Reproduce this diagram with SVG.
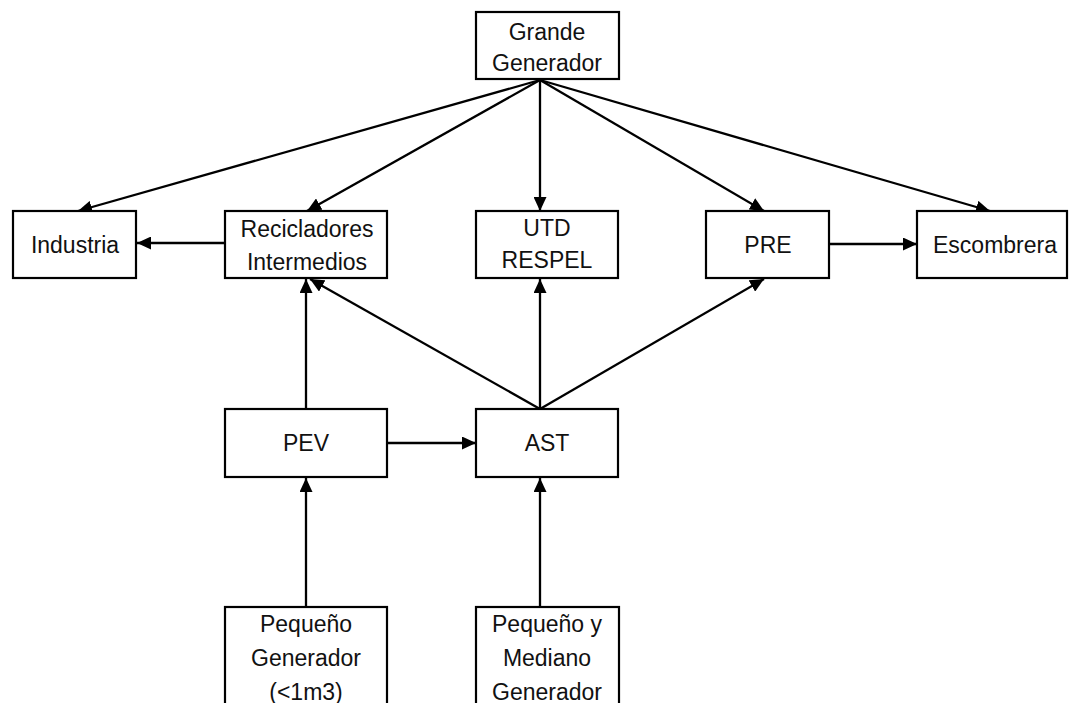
<svg xmlns="http://www.w3.org/2000/svg" width="1069" height="703" viewBox="0 0 1069 703">
  <style>
    .box { fill: #ffffff; stroke: #000000; stroke-width: 2.2; }
    .lbl { font-family: "Liberation Sans", Arial, sans-serif; font-size: 23px; fill: #111111; text-anchor: middle; }
    .edge { stroke: #000000; stroke-width: 2.3; fill: none; marker-end: url(#arrow); }
  </style>
  <defs>
    <marker id="arrow" markerUnits="userSpaceOnUse" markerWidth="15" markerHeight="13" refX="14" refY="6.5" orient="auto">
      <path d="M0,0 L14,6.5 L0,13 z" fill="#000000"/>
    </marker>
  </defs>
  <rect width="1069" height="703" fill="#ffffff"/>

  <!-- flows between nodes -->
  <g id="connectors">
    <line class="edge" x1="540" y1="80" x2="78" y2="211"/>
    <line class="edge" x1="540" y1="80" x2="307" y2="211"/>
    <line class="edge" x1="540" y1="80" x2="540" y2="211"/>
    <line class="edge" x1="540" y1="80" x2="764" y2="211"/>
    <line class="edge" x1="540" y1="80" x2="990" y2="211"/>
    <line class="edge" x1="225" y1="243" x2="137" y2="243"/>
    <line class="edge" x1="829" y1="244" x2="917" y2="244"/>
    <line class="edge" x1="306" y1="409" x2="306" y2="279"/>
    <line class="edge" x1="540" y1="409" x2="310" y2="279"/>
    <line class="edge" x1="540" y1="409" x2="540" y2="279"/>
    <line class="edge" x1="540" y1="409" x2="764" y2="279"/>
    <line class="edge" x1="388" y1="443" x2="476" y2="443"/>
    <line class="edge" x1="306" y1="607" x2="306" y2="478"/>
    <line class="edge" x1="540" y1="607" x2="540" y2="478"/>
  </g>

  <g id="grande-generador">
    <rect class="box" x="476" y="12" width="143" height="67"/>
    <text class="lbl" x="547" y="40">Grande</text>
    <text class="lbl" x="547" y="71">Generador</text>
  </g>

  <g id="industria">
    <rect class="box" x="13" y="211" width="123" height="67"/>
    <text class="lbl" x="75" y="253">Industria</text>
  </g>

  <g id="recicladores-intermedios">
    <rect class="box" x="225" y="211" width="162" height="67"/>
    <text class="lbl" x="307" y="237">Recicladores</text>
    <text class="lbl" x="307" y="270">Intermedios</text>
  </g>

  <g id="utd-respel">
    <rect class="box" x="476" y="211" width="142" height="67"/>
    <text class="lbl" x="547" y="236">UTD</text>
    <text class="lbl" x="547" y="268">RESPEL</text>
  </g>

  <g id="pre">
    <rect class="box" x="706" y="211" width="123" height="67"/>
    <text class="lbl" x="768" y="253">PRE</text>
  </g>

  <g id="escombrera">
    <rect class="box" x="917" y="211" width="150" height="67"/>
    <text class="lbl" x="995" y="253">Escombrera</text>
  </g>

  <g id="pev">
    <rect class="box" x="225" y="409" width="162" height="68"/>
    <text class="lbl" x="306" y="451">PEV</text>
  </g>

  <g id="ast">
    <rect class="box" x="476" y="409" width="142" height="68"/>
    <text class="lbl" x="547" y="451">AST</text>
  </g>

  <g id="pequeno-generador">
    <rect class="box" x="225" y="607" width="162" height="110"/>
    <text class="lbl" x="306" y="632">Pequeño</text>
    <text class="lbl" x="306" y="666">Generador</text>
    <text class="lbl" x="306" y="700">(&lt;1m3)</text>
  </g>

  <g id="pequeno-mediano-generador">
    <rect class="box" x="476" y="607" width="143" height="110"/>
    <text class="lbl" x="547" y="632">Pequeño y</text>
    <text class="lbl" x="547" y="666">Mediano</text>
    <text class="lbl" x="547" y="700">Generador</text>
  </g>
</svg>
